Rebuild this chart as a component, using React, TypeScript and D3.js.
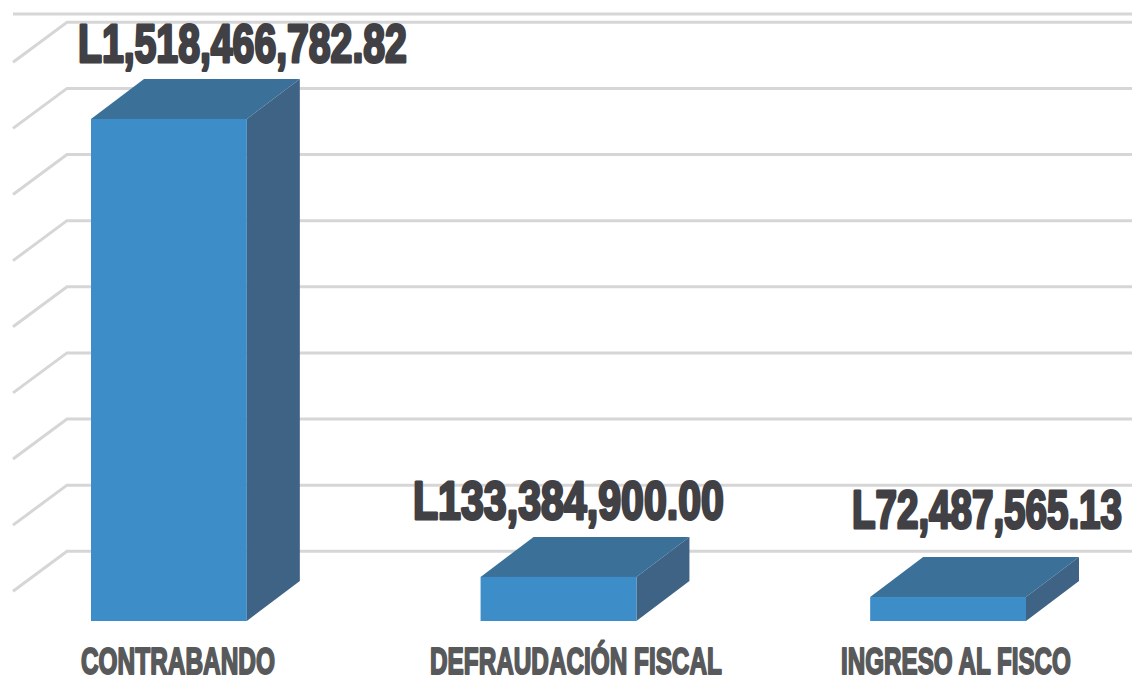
import { useLayoutEffect, useRef } from "react";
import * as d3 from "d3";

const categories = ["CONTRABANDO", "DEFRAUDACIÓN FISCAL", "INGRESO AL FISCO"];
const values = [1518466782.82, 133384900.0, 72487565.13];
const valueLabels = ["L1,518,466,782.82", "L133,384,900.00", "L72,487,565.13"];
// lineas de la pared del fondo, en lempiras
const gridValues = [90, 290, 490, 690, 890, 1090, 1290, 1490, 1690].map((d) => d * 1e6);
const topLine = 1715e6;

// cajas de texto medidas en la imagen: [izquierda, ancho, separacion sobre la barra]
const valueBoxes = [[78, 329, 57.5], [413, 311, 57.5], [852, 270, 69]];
const categoryBoxes = [[81, 194], [430, 292], [841, 230]];

const WIDTH = 1132;
const HEIGHT = 675;
const depthX = 53;
const depthY = 40;
const wallLeft = 13;
const labelFont = "'Liberation Sans Narrow', 'Liberation Sans', sans-serif";

const x = d3.scaleBand<string>().domain(categories).range([91, 1026]).paddingInner(0.6).paddingOuter(0);
const y = d3.scaleLinear().domain([0, values[0]]).range([621, 119]);
const poly = d3.line();

// Texto condensado: se mide y se escala al ancho de la caja
function FitText({ text, left, top, width, size, fill, weight }: any) {
  const ref = useRef<SVGTextElement>(null);
  useLayoutEffect(() => {
    if (!ref.current) return;
    const natural = ref.current.getComputedTextLength();
    d3.select(ref.current).attr("transform", `translate(${left},${top}) scale(${width / natural},1)`);
  }, [text, left, top, width]);
  return (
    <text
      ref={ref}
      fontFamily={labelFont}
      fontWeight="bold"
      fontSize={size}
      fill={fill}
      stroke={fill}
      strokeWidth={weight}
      strokeLinejoin="round"
    >
      {text}
    </text>
  );
}

export default function App() {
  const baseY = y(0);
  return (
    <svg
      width={WIDTH}
      height={HEIGHT}
      style={{ position: "absolute", left: 0, top: 0, display: "block", background: "#fff" }}
    >
      {/* Grilla */}
      <g fill="none" stroke="#d6d6d6" strokeWidth={3}>
        <line x1={wallLeft} x2={WIDTH} y1={y(topLine) - depthY} y2={y(topLine) - depthY} />
        {gridValues.map((v) => {
          const back = y(v) - depthY;
          return (
            <path
              key={v}
              d={poly([
                [wallLeft, back + depthY],
                [wallLeft + depthX + 1, back],
                [WIDTH, back],
              ]) as string}
            />
          );
        })}
      </g>

      {/* Barras */}
      {categories.map((c, i) => {
        const x0 = x(c) as number;
        const x1 = x0 + x.bandwidth();
        const top = y(values[i]);
        return (
          <g key={c}>
            <path
              fill="#3b7199"
              d={(poly([
                [x0, top],
                [x0 + depthX, top - depthY],
                [x1 + depthX, top - depthY],
                [x1, top],
              ]) as string) + "Z"}
            />
            <path
              fill="#3e6385"
              d={(poly([
                [x1, top],
                [x1 + depthX, top - depthY],
                [x1 + depthX, baseY - depthY],
                [x1, baseY],
              ]) as string) + "Z"}
            />
            <rect x={x0} y={top} width={x.bandwidth()} height={baseY - top} fill="#3c8dc8" />
          </g>
        );
      })}

      {/* Valores */}
      {valueLabels.map((t, i) => (
        <FitText
          key={t}
          text={t}
          left={valueBoxes[i][0]}
          top={y(values[i]) - valueBoxes[i][2]}
          width={valueBoxes[i][1]}
          size={54}
          fill="#404045"
          weight={3}
        />
      ))}

      {/* Categorias */}
      {categories.map((c, i) => (
        <FitText
          key={c}
          text={c}
          left={categoryBoxes[i][0]}
          top={673.5}
          width={categoryBoxes[i][1]}
          size={37}
          fill="#58595b"
          weight={2}
        />
      ))}
    </svg>
  );
}
